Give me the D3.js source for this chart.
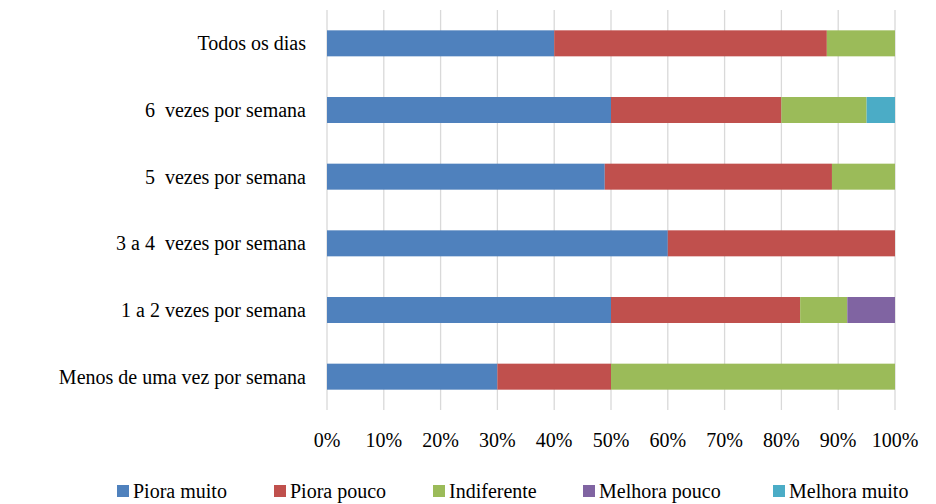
<!DOCTYPE html>
<html>
<head>
<meta charset="utf-8">
<script src="https://cdnjs.cloudflare.com/ajax/libs/d3/7.8.5/d3.min.js"></script>
<style>
  svg text { font-family: 'Liberation Serif', Tinos, 'Times New Roman', serif !important; }
</style>
</head>
<body style="margin:0">
<script>
// categorias (de cima para baixo)
var categories = [
    "Todos os dias",
    "6  vezes por semana",
    "5  vezes por semana",
    "3 a 4  vezes por semana",
    "1 a 2 vezes por semana",
    "Menos de uma vez por semana"
];
var seriesNames = ["Piora muito", "Piora pouco", "Indiferente", "Melhora pouco", "Melhora muito"];
var seriesColors = ["#4F81BD", "#C0504D", "#9BBB59", "#8064A2", "#4BACC6"];

// valores em % por série, na ordem das categorias
var pioraMuito   = [40, 50, 48.9, 60, 50, 30];
var pioraPouco   = [48, 30, 40.0, 40, 33.3, 20];
var indiferente  = [12, 15, 11.1, 0, 8.3, 50];
var melhoraPouco = [0, 0, 0, 0, 8.4, 0];
var melhoraMuito = [0, 5, 0, 0, 0, 0];

var tickValues = [0, 0.1, 0.2, 0.3, 0.4, 0.5, 0.6, 0.7, 0.8, 0.9, 1];

var FONT = "Liberation Serif, Tinos, Times New Roman, serif";

var width = 936, height = 504;
var margin = {top: 10, left: 327, right: 41, bottom: 94};

var svg = d3.select('body').append('svg')
    .attr('width', width)
    .attr('height', height)
    .attr('font-family', FONT);

// montar tabela para o stack
var rows = categories.map(function (c, i) {
    return {
        cat: c,
        s0: pioraMuito[i], s1: pioraPouco[i], s2: indiferente[i],
        s3: melhoraPouco[i], s4: melhoraMuito[i]
    };
});
var keys = ['s0', 's1', 's2', 's3', 's4'];
var stacked = d3.stack().keys(keys).offset(d3.stackOffsetExpand)(rows);

var x = d3.scaleLinear().domain([0, 1]).range([margin.left, width - margin.right]);
var y = d3.scaleBand().domain(categories)
    .range([margin.top, height - margin.bottom])
    .paddingInner(0.61).paddingOuter(0.305);

// linhas de grade
svg.append('g').selectAll('line')
    .data(tickValues)
    .enter().append('line')
    .attr('x1', function (d) { return x(d); })
    .attr('x2', function (d) { return x(d); })
    .attr('y1', margin.top)
    .attr('y2', height - margin.bottom)
    .attr('stroke', '#D9D9D9')
    .attr('stroke-width', 1.3);

// barras
svg.append('g').selectAll('g')
    .data(stacked)
    .enter().append('g')
    .attr('fill', function (d, i) { return seriesColors[i]; })
    .selectAll('rect')
    .data(function (d) { return d; })
    .enter().append('rect')
    .attr('x', function (d) { return x(d[0]); })
    .attr('width', function (d) { return Math.max(0, x(d[1]) - x(d[0])); })
    .attr('y', function (d) { return y(d.data.cat); })
    .attr('height', y.bandwidth());

// eixo x (rótulos)
svg.append('g').selectAll('text')
    .data(tickValues)
    .enter().append('text')
    .attr('x', function (d) { return x(d); })
    .attr('y', height - margin.bottom + 37)
    .attr('text-anchor', 'middle')
    .attr('font-family', FONT)
    .attr('font-size', 20)
    .text(d3.format('.0%'));

// eixo y (categorias)
svg.append('g').selectAll('text')
    .data(categories)
    .enter().append('text')
    .attr('x', margin.left - 21)
    .attr('y', function (d) { return y(d) + y.bandwidth() / 2; })
    .attr('dy', '0.35em')
    .attr('text-anchor', 'end')
    .attr('font-family', FONT)
    .attr('font-size', 20)
    .attr('xml:space', 'preserve')
    .style('white-space', 'pre')
    .text(function (d) { return d; });

// legenda
var legendX = [117, 274, 433, 583, 773];
var legend = svg.append('g').attr('transform', 'translate(0,491)');
var item = legend.selectAll('g')
    .data(seriesNames)
    .enter().append('g')
    .attr('transform', function (d, i) { return 'translate(' + legendX[i] + ',0)'; });
item.append('rect')
    .attr('x', 0).attr('y', -6)
    .attr('width', 12).attr('height', 12)
    .attr('fill', function (d, i) { return seriesColors[i]; });
item.append('text')
    .attr('x', 16).attr('dy', '0.35em')
    .attr('font-family', FONT)
    .attr('font-size', 20)
    .text(function (d) { return d; });
</script>
</body>
</html>
